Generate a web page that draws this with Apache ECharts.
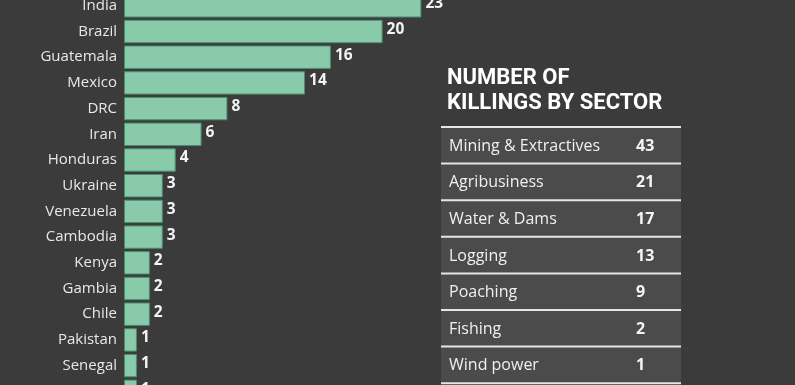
<!DOCTYPE html>
<html><head><meta charset="utf-8">
<script src="https://cdn.jsdelivr.net/npm/echarts@6/dist/echarts.min.js"></script>
<style>html,body{margin:0;padding:0;background:#3b3b3b;overflow:hidden;width:795px;height:385px;}#c{position:absolute;left:0;top:-20px;width:795px;height:425px;}</style>
</head><body><div id="c"></div>
<script>
const countries = ["India","Brazil","Guatemala","Mexico","DRC","Iran","Honduras","Ukraine","Venezuela","Cambodia","Kenya","Gambia","Chile","Pakistan","Senegal","Peru"];
const killings = [23,20,16,14,8,6,4,3,3,3,2,2,2,1,1,1];
const tableTitle = ["NUMBER OF","KILLINGS BY SECTOR"];
const sectors = ["Mining & Extractives","Agribusiness","Water & Dams","Logging","Poaching","Fishing","Wind power"];
const sectorKillings = [43,21,17,13,9,2,1];

const FONT = "'Open Sans', sans-serif";
const OFF = 20; // container shifted up by this many px
const chart = echarts.init(document.getElementById('c'), null, {renderer:'canvas'});

const pitch = 25.7;
const tblX = 441, tblW = 240, tblTop = 127 + OFF, rowH = 36.6;
const graphics = [];
graphics.push({type:'text', left:447, top:66 + OFF, style:{text:tableTitle.join('\n'), fill:'#ffffff', font:"bold 22px Roboto, sans-serif", lineHeight:25}});
sectors.forEach((s,i)=>{
  const y = tblTop + i*rowH;
  graphics.push({type:'rect', shape:{x:tblX, y:y, width:tblW, height:rowH}, style:{fill:'#4b4b4b'}});
  graphics.push({type:'text', x:449, y:y+rowH/2+1, style:{text:s, fill:'#f0f0f0', font:"16px "+FONT, verticalAlign:'middle'}});
  graphics.push({type:'text', x:636, y:y+rowH/2+1, style:{text:String(sectorKillings[i]), fill:'#f4f4f4', font:"bold 16px "+FONT, verticalAlign:'middle'}});
});
for(let i=0;i<=sectors.length;i++){
  const y = tblTop + i*rowH;
  graphics.push({type:'rect', shape:{x:tblX, y:y-1, width:tblW, height:2}, style:{fill:'#e6e6e6'}, z:10});
}

const n = countries.length;
const gridTop = OFF + 5.8 - pitch/2;
chart.setOption({
  backgroundColor:'#3b3b3b',
  animation:false,
  grid:{left:124, width:12.93*30, top:gridTop, height:pitch*n, containLabel:false},
  xAxis:{type:'value', min:0, max:30, show:false},
  yAxis:{type:'category', data:countries, inverse:true,
    axisLine:{show:false}, axisTick:{show:false}, splitLine:{show:false},
    axisLabel:{color:'#e8e8e8', fontFamily:FONT, fontSize:15, margin:7}},
  series:[{type:'bar', data:killings, barCategoryGap:'9%',
    itemStyle:{color:'#88caaa', borderColor:'#4e8c70', borderWidth:1},
    label:{show:true, position:'right', distance:4, offset:[0,-2], color:'#f4f4f4', fontFamily:FONT, fontWeight:'bold', fontSize:15.5}}],
  graphic:graphics
});
</script></body></html>
